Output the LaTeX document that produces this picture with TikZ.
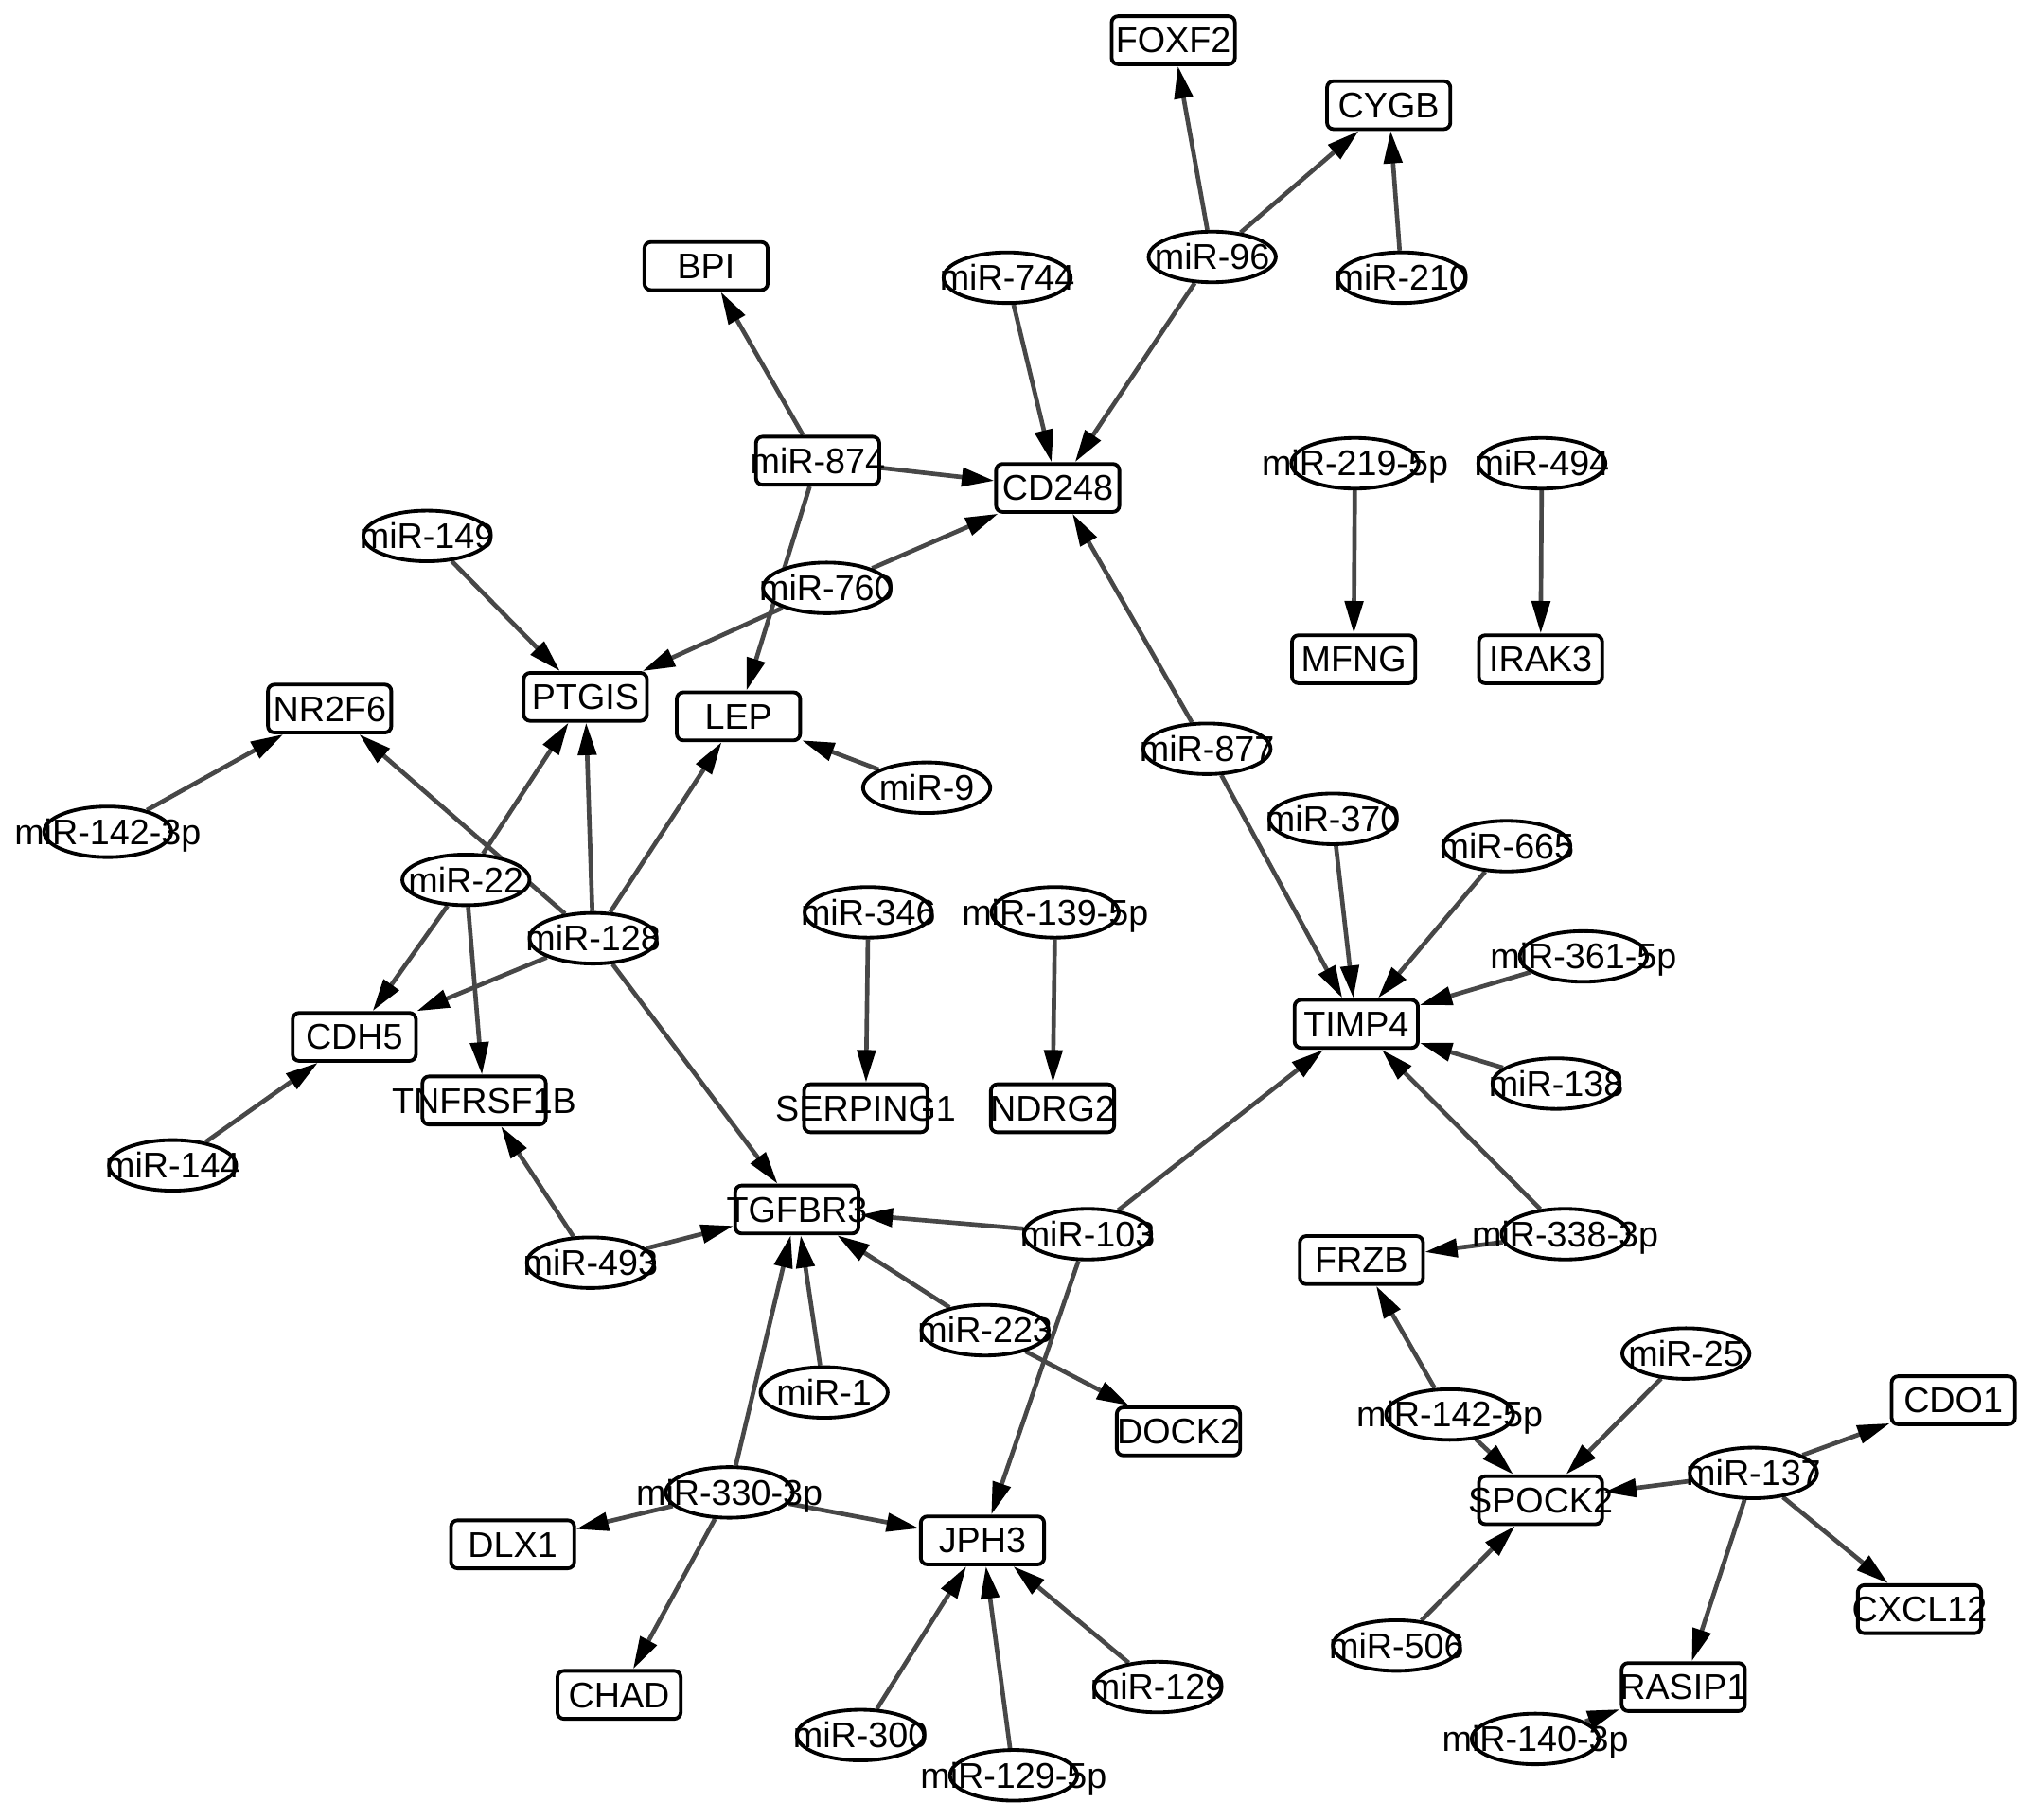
\documentclass[tikz,border=0pt]{standalone}
\usepackage{fontspec}
\setmainfont{Liberation Sans}
\usetikzlibrary{shapes.geometric,arrows.meta}
\pgfdeclarelayer{bg}
\pgfsetlayers{bg,main}
\definecolor{edgegray}{HTML}{474747}
\newcommand{\nlab}[1]{\makebox[0pt]{#1}}
\tikzset{
  gene/.style={rectangle, rounded corners=5pt, draw=black, line width=2.8pt, fill=white,
    minimum width=95pt, minimum height=37pt, inner sep=0pt, text height=19.5pt, text depth=0pt},
  mir/.style={ellipse, draw=black, line width=2.8pt, fill=white,
    minimum width=98pt, minimum height=39pt, inner sep=0pt, text height=19.5pt, text depth=0pt},
  edge/.style={draw=edgegray, line width=3.4pt, -{Triangle[length=25pt,width=14pt,color=black]}}
}
\begin{document}
\begin{tikzpicture}[x=1pt,y=-1pt,font=\fontsize{27.5}{30}\selectfont]
\useasboundingbox (0,0) rectangle (1568,1402);
% genes
\node[gene] (FOXF2) at (904,31) {\nlab{FOXF2}};
\node[gene] (CYGB) at (1070,81) {\nlab{CYGB}};
\node[gene] (BPI) at (544,205) {\nlab{BPI}};
\node[gene] (CD248) at (815,376) {\nlab{CD248}};
\node[gene] (MFNG) at (1043,508) {\nlab{MFNG}};
\node[gene] (IRAK3) at (1187,508) {\nlab{IRAK3}};
\node[gene] (NR2F6) at (254,546) {\nlab{NR2F6}};
\node[gene] (PTGIS) at (451,537) {\nlab{PTGIS}};
\node[gene] (LEP) at (569,552) {\nlab{LEP}};
\node[gene] (TIMP4) at (1045,789) {\nlab{TIMP4}};
\node[gene] (CDH5) at (273,799) {\nlab{CDH5}};
\node[gene] (TNFRSF1B) at (373,848) {\nlab{TNFRSF1B}};
\node[gene] (SERPING1) at (667,854) {\nlab{SERPING1}};
\node[gene] (NDRG2) at (811,854) {\nlab{NDRG2}};
\node[gene] (TGFBR3) at (614,932) {\nlab{TGFBR3}};
\node[gene] (FRZB) at (1049,971) {\nlab{FRZB}};
\node[gene] (DOCK2) at (908,1103) {\nlab{DOCK2}};
\node[gene] (CDO1) at (1505,1079) {\nlab{CDO1}};
\node[gene] (SPOCK2) at (1187,1156) {\nlab{SPOCK2}};
\node[gene] (CXCL12) at (1479,1240) {\nlab{CXCL12}};
\node[gene] (DLX1) at (395,1190) {\nlab{DLX1}};
\node[gene] (JPH3) at (757,1187) {\nlab{JPH3}};
\node[gene] (CHAD) at (477,1306) {\nlab{CHAD}};
\node[gene] (RASIP1) at (1297,1300) {\nlab{RASIP1}};
\node[gene] (m874) at (630,355) {\nlab{miR-874}};
% miRNAs
\node[mir] (m96) at (934,198) {\nlab{miR-96}};
\node[mir] (m210) at (1080,214) {\nlab{miR-210}};
\node[mir] (m744) at (776,214) {\nlab{miR-744}};
\node[mir] (m2195p) at (1044,357) {\nlab{miR-219-5p}};
\node[mir] (m494) at (1188,357) {\nlab{miR-494}};
\node[mir] (m149) at (329,413) {\nlab{miR-149}};
\node[mir] (m760) at (637,453) {\nlab{miR-760}};
\node[mir] (m877) at (930,577) {\nlab{miR-877}};
\node[mir] (m9) at (714,607) {\nlab{miR-9}};
\node[mir] (m1423p) at (83,641) {\nlab{miR-142-3p}};
\node[mir] (m22) at (359,678) {\nlab{miR-22}};
\node[mir] (m128) at (457,723) {\nlab{miR-128}};
\node[mir] (m346) at (669,703) {\nlab{miR-346}};
\node[mir] (m1395p) at (813,703) {\nlab{miR-139-5p}};
\node[mir] (m370) at (1027,631) {\nlab{miR-370}};
\node[mir] (m665) at (1161,652) {\nlab{miR-665}};
\node[mir] (m3615p) at (1220,737) {\nlab{miR-361-5p}};
\node[mir] (m138) at (1199,835) {\nlab{miR-138}};
\node[mir] (m144) at (133,898) {\nlab{miR-144}};
\node[mir] (m493) at (455,973) {\nlab{miR-493}};
\node[mir] (m103) at (838,951) {\nlab{miR-103}};
\node[mir] (m3383p) at (1206,951) {\nlab{miR-338-3p}};
\node[mir] (m223) at (759,1025) {\nlab{miR-223}};
\node[mir] (m1) at (635,1073) {\nlab{miR-1}};
\node[mir] (m1425p) at (1117,1090) {\nlab{miR-142-5p}};
\node[mir] (m25) at (1299,1043) {\nlab{miR-25}};
\node[mir] (m137) at (1351,1135) {\nlab{miR-137}};
\node[mir] (m3303p) at (562,1150) {\nlab{miR-330-3p}};
\node[mir] (m506) at (1076,1268) {\nlab{miR-506}};
\node[mir] (m300) at (663,1337) {\nlab{miR-300}};
\node[mir] (m129) at (892,1300) {\nlab{miR-129}};
\node[mir] (m1295p) at (781,1368) {\nlab{miR-129-5p}};
\node[mir] (m1403p) at (1183,1340) {\nlab{miR-140-3p}};
% edges
\begin{pgfonlayer}{bg}
\draw[edge] (m96) -- (FOXF2);
\draw[edge] (m96) -- (CYGB);
\draw[edge] (m96) -- (CD248);
\draw[edge] (m210) -- (CYGB);
\draw[edge] (m744) -- (CD248);
\draw[edge] (m874) -- (BPI);
\draw[edge] (m874) -- (CD248);
\draw[edge] (m874) -- (LEP);
\draw[edge] (m760) -- (CD248);
\draw[edge] (m760) -- (PTGIS);
\draw[edge] (m149) -- (PTGIS);
\draw[edge] (m2195p) -- (MFNG);
\draw[edge] (m494) -- (IRAK3);
\draw[edge] (m877) -- (CD248);
\draw[edge] (m877) -- (TIMP4);
\draw[edge] (m9) -- (LEP);
\draw[edge] (m1423p) -- (NR2F6);
\draw[edge] (m128) -- (NR2F6);
\draw[edge] (m22) -- (PTGIS);
\draw[edge] (m22) -- (CDH5);
\draw[edge] (m22) -- (TNFRSF1B);
\draw[edge] (m128) -- (PTGIS);
\draw[edge] (m128) -- (LEP);
\draw[edge] (m128) -- (CDH5);
\draw[edge] (m128) -- (TGFBR3);
\draw[edge] (m144) -- (CDH5);
\draw[edge] (m493) -- (TNFRSF1B);
\draw[edge] (m493) -- (TGFBR3);
\draw[edge] (m346) -- (SERPING1);
\draw[edge] (m1395p) -- (NDRG2);
\draw[edge] (m370) -- (TIMP4);
\draw[edge] (m665) -- (TIMP4);
\draw[edge] (m3615p) -- (TIMP4);
\draw[edge] (m138) -- (TIMP4);
\draw[edge] (m3383p) -- (TIMP4);
\draw[edge] (m3383p) -- (FRZB);
\draw[edge] (m103) -- (TIMP4);
\draw[edge] (m103) -- (TGFBR3);
\draw[edge] (m103) -- (JPH3);
\draw[edge] (m223) -- (TGFBR3);
\draw[edge] (m223) -- (DOCK2);
\draw[edge] (m1) -- (TGFBR3);
\draw[edge] (m3303p) -- (TGFBR3);
\draw[edge] (m3303p) -- (DLX1);
\draw[edge] (m3303p) -- (JPH3);
\draw[edge] (m3303p) -- (CHAD);
\draw[edge] (m300) -- (JPH3);
\draw[edge] (m1295p) -- (JPH3);
\draw[edge] (m129) -- (JPH3);
\draw[edge] (m1425p) -- (FRZB);
\draw[edge] (m1425p) -- (SPOCK2);
\draw[edge] (m25) -- (SPOCK2);
\draw[edge] (m137) -- (SPOCK2);
\draw[edge] (m137) -- (CDO1);
\draw[edge] (m137) -- (CXCL12);
\draw[edge] (m137) -- (RASIP1);
\draw[edge] (m506) -- (SPOCK2);
\draw[edge] (m1403p) -- (RASIP1);
\end{pgfonlayer}
\end{tikzpicture}
\end{document}
